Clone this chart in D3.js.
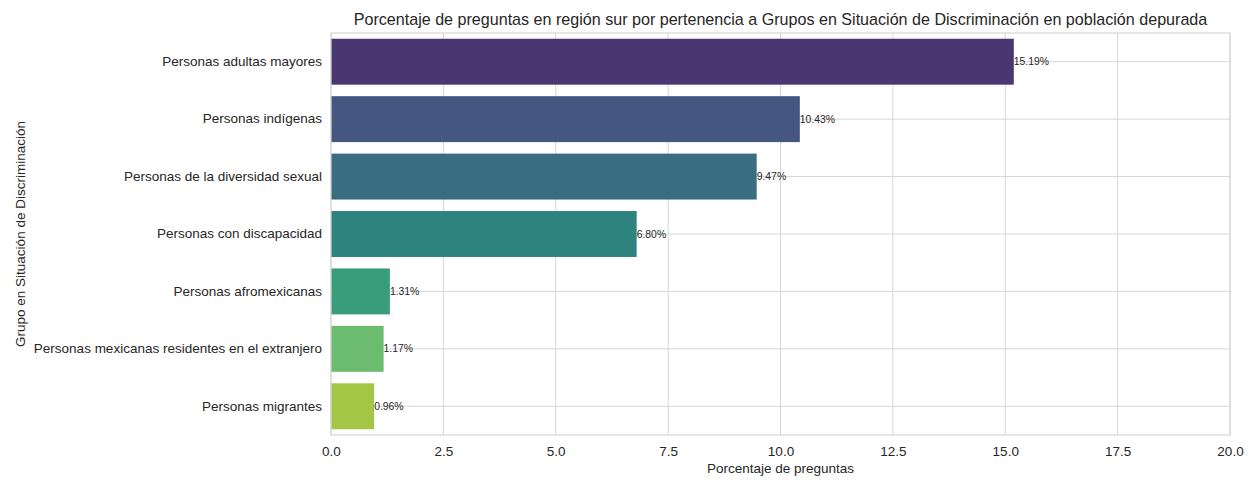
<!DOCTYPE html>
<html>
<head>
<meta charset="utf-8">
<script src="https://cdn.jsdelivr.net/npm/d3@7"></script>
<style>
  body { margin: 0; background: #fff; }
  text { font-family: "Liberation Sans", Arial, sans-serif; fill: #262626; }
</style>
</head>
<body>
<div id="chart"></div>
<script>
var categories = [
  "Personas adultas mayores",
  "Personas indígenas",
  "Personas de la diversidad sexual",
  "Personas con discapacidad",
  "Personas afromexicanas",
  "Personas mexicanas residentes en el extranjero",
  "Personas migrantes"
];
var percentages = [15.19, 10.43, 9.47, 6.80, 1.31, 1.17, 0.96];
var xTicks = [0, 2.5, 5, 7.5, 10, 12.5, 15, 17.5, 20];
var baseColors = ["#472d7b", "#3b528b", "#2c728e", "#21918c", "#28ae80", "#5ec962", "#addc30"];

var svgWidth = 1252;
var svgHeight = 480;
var margin = { top: 33, right: 22, bottom: 45, left: 331 };
var width = svgWidth - margin.left - margin.right;
var height = svgHeight - margin.top - margin.bottom;

var svg = d3.select("#chart")
  .append("svg")
  .attr("width", svgWidth)
  .attr("height", svgHeight);

var chartGroup = svg.append("g")
  .attr("transform", `translate(${margin.left}, ${margin.top})`);

var xScale = d3.scaleLinear().domain([0, 20]).range([0, width]);
var yScale = d3.scaleBand().domain(categories).range([0, height]).paddingInner(0.2).paddingOuter(0.1);

// seaborn-style desaturated colours
var colors = baseColors.map(function(c) {
  var h = d3.hsl(c);
  h.s = h.s * 0.75;
  return h.formatHex();
});

// grid
chartGroup.selectAll(".vgrid")
  .data(xTicks)
  .enter()
  .append("line")
  .attr("x1", d => xScale(d))
  .attr("x2", d => xScale(d))
  .attr("y1", 0)
  .attr("y2", height)
  .attr("stroke", "#d6d6d6")
  .attr("stroke-width", 1);

chartGroup.selectAll(".hgrid")
  .data(categories)
  .enter()
  .append("line")
  .attr("x1", 0)
  .attr("x2", width)
  .attr("y1", d => yScale(d) + yScale.bandwidth() / 2)
  .attr("y2", d => yScale(d) + yScale.bandwidth() / 2)
  .attr("stroke", "#d6d6d6")
  .attr("stroke-width", 1);

// bars
chartGroup.selectAll("rect.bar")
  .data(percentages)
  .enter()
  .append("rect")
  .attr("class", "bar")
  .attr("x", xScale(0))
  .attr("y", (d, i) => yScale(categories[i]))
  .attr("width", d => xScale(d) - xScale(0))
  .attr("height", yScale.bandwidth())
  .attr("fill", (d, i) => colors[i]);

// value labels
chartGroup.selectAll("text.val")
  .data(percentages)
  .enter()
  .append("text")
  .attr("class", "val")
  .attr("x", d => xScale(d))
  .attr("y", (d, i) => yScale(categories[i]) + yScale.bandwidth() / 2)
  .attr("dy", "0.35em")
  .style("font-size", "10.4px")
  .text(d => d.toFixed(2) + "%");

// frame
chartGroup.append("rect")
  .attr("width", width)
  .attr("height", height)
  .attr("fill", "none")
  .attr("stroke", "#d6d6d6")
  .attr("stroke-width", 1.2);

// axes
var bottomAxis = d3.axisBottom(xScale).tickValues(xTicks).tickFormat(d3.format(".1f")).tickSize(0).tickPadding(11);
var leftAxis = d3.axisLeft(yScale).tickSize(0).tickPadding(9);

var gx = chartGroup.append("g")
  .attr("transform", `translate(0, ${height})`)
  .call(bottomAxis);
var gy = chartGroup.append("g").call(leftAxis);

[gx, gy].forEach(function(g) {
  g.select(".domain").remove();
  g.selectAll("text")
    .style("font-size", "13.5px")
    .style("font-family", "'Liberation Sans', Arial, sans-serif")
    .attr("fill", "#262626");
});

// titles
svg.append("text")
  .attr("x", margin.left + width / 2)
  .attr("y", 25)
  .attr("text-anchor", "middle")
  .style("font-size", "16.1px")
  .text("Porcentaje de preguntas en región sur por pertenencia a Grupos en Situación de Discriminación en población depurada");

svg.append("text")
  .attr("x", margin.left + width / 2)
  .attr("y", 473)
  .attr("text-anchor", "middle")
  .style("font-size", "13.5px")
  .text("Porcentaje de preguntas");

svg.append("text")
  .attr("transform", `translate(25, ${margin.top + height / 2}) rotate(-90)`)
  .attr("text-anchor", "middle")
  .style("font-size", "13.5px")
  .text("Grupo en Situación de Discriminación");
</script>
</body>
</html>
